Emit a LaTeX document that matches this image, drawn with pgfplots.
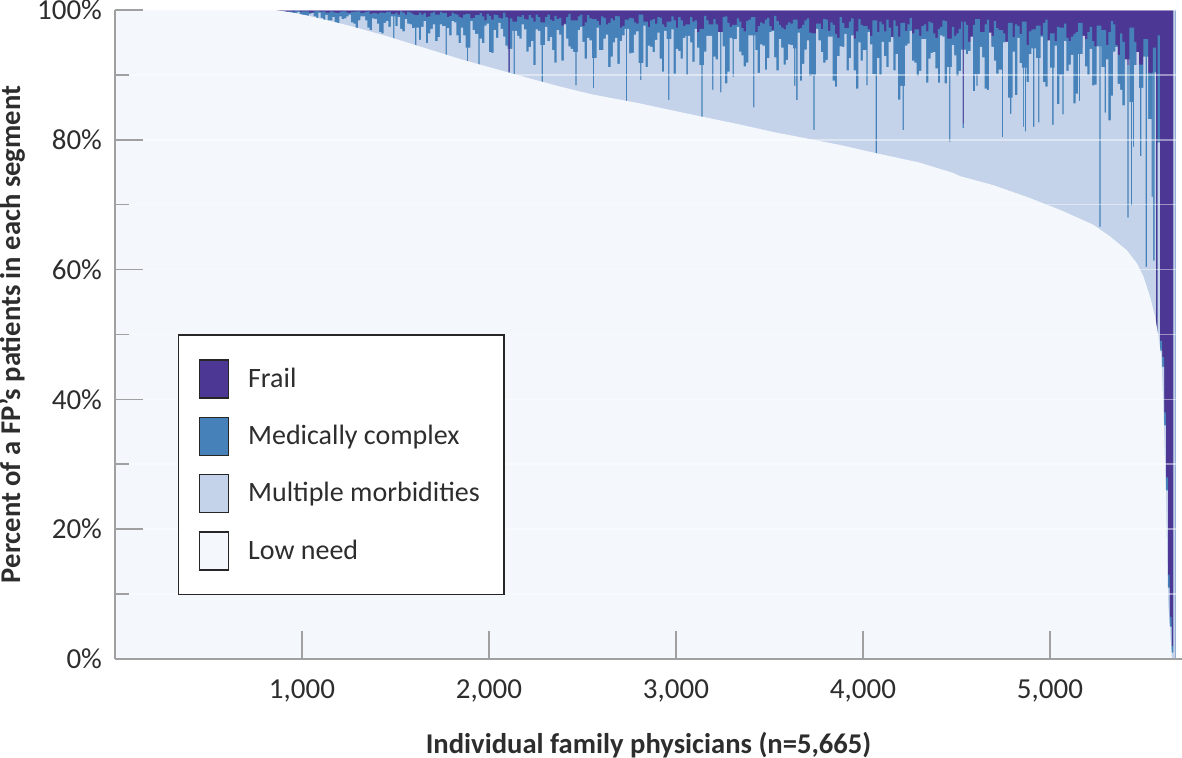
\documentclass[border=0pt]{standalone}
\usepackage{pgfplots}
\usepackage{pgfplotstable}
\usepackage{fontspec}
\setmainfont{Carlito}
\pgfplotsset{compat=1.18}

\definecolor{frailc}{RGB}{76,56,148}
\definecolor{medc}{RGB}{70,130,185}
\definecolor{multic}{RGB}{197,211,234}
\definecolor{lowc}{RGB}{244,248,252}
\definecolor{axisgray}{RGB}{160,160,160}
\definecolor{txt}{RGB}{45,45,45}

% low need share, physicians sorted by it
\pgfplotstableread{
x low
0 100
855 100
950 99.6
1050 99.0
1150 98.3
1250 97.6
1350 96.8
1450 96.0
1550 95.1
1650 94.2
1750 93.3
1850 92.4
1950 91.6
2050 90.8
2150 90.0
2250 89.2
2380 88.2
2550 87.0
2807 85.6
3000 84.4
3166 83.4
3350 82.3
3519 81.2
3700 80.2
3877 79.2
4075 77.9
4300 76.5
4481 74.9
4519 74.4
4697 73.0
4876 71.2
5054 69.2
5232 66.9
5321 65.1
5410 63.0
5464 61.0
5500 58.9
5535 55.8
5562 52.7
5580 49.7
5595 46.5
5605 40
5620 25
5631 9
5652 0
5665 0
}\lowtab

% top of multiple morbidities (mm) and of medically complex (mc), in percent
\pgfplotstableread{
x mm mc
850 99.3 99.8
862 99.3 99.7
875 99.6 99.7
887 98.8 99.8
900 99.0 99.9
912 99.4 99.7
925 99.4 99.8
937 99.0 99.8
950 98.8 99.7
962 99.5 99.9
975 99.7 99.9
987 98.7 99.7
1000 99.2 99.8
1012 99.2 99.8
1025 99.1 99.8
1037 99.4 99.6
1050 99.5 99.6
1062 99.0 99.8
1075 98.7 99.9
1087 99.6 99.8
1100 98.8 99.7
1112 97.5 99.8
1125 99.2 99.6
1137 98.4 99.6
1150 98.4 99.8
1162 98.9 99.7
1175 98.1 99.6
1187 97.9 99.5
1200 99.0 99.7
1212 98.6 99.8
1225 98.7 99.8
1237 99.0 99.6
1250 99.3 99.5
1262 98.1 99.7
1275 97.9 99.7
1287 97.2 99.8
1300 98.4 99.8
1312 99.0 99.5
1325 99.0 99.6
1337 98.4 99.7
1350 97.3 99.8
1362 96.9 99.4
1375 98.7 99.5
1387 98.6 99.5
1400 97.9 99.4
1412 96.6 99.6
1425 96.4 99.6
1437 98.0 99.5
1450 98.3 99.7
1462 97.4 99.7
1475 99.0 99.4
1487 95.0 99.4
1494 99.0 99.4
1500 97.5 99.6
1512 98.9 99.3
1525 97.1 99.8
1537 96.7 99.6
1550 98.6 99.3
1562 97.9 99.7
1575 97.8 99.6
1587 97.2 99.4
1600 97.3 99.2
1604 93.4 99.2
1611 97.3 99.2
1625 95.4 99.6
1637 97.4 99.3
1650 98.3 99.5
1662 94.9 98.9
1675 96.4 99.0
1687 97.1 99.5
1700 97.8 99.7
1712 95.2 99.3
1725 95.8 99.3
1737 97.8 99.7
1750 97.5 99.5
1768 91.8 99.5
1775 97.2 98.9
1787 96.1 99.1
1800 98.3 99.6
1812 98.1 99.4
1825 96.1 99.3
1837 94.9 98.9
1850 97.3 98.8
1862 96.1 99.3
1875 94.2 99.4
1882 90.5 99.4
1889 94.2 99.4
1900 98.3 98.7
1912 96.9 98.8
1925 96.3 99.2
1943 90.0 99.2
1950 95.6 99.5
1962 94.9 99.0
1975 97.6 98.4
1987 97.9 99.4
2000 93.5 99.1
2012 93.4 98.5
2025 96.9 99.3
2037 95.7 99.2
2050 98.0 98.8
2062 97.1 98.7
2075 95.9 99.6
2087 94.5 98.9
2100 94.0 98.7
2104 90.0 90.5
2111 94.0 98.7
2125 96.8 98.2
2132 88.9 98.2
2139 96.8 98.2
2150 96.0 99.0
2162 95.6 98.9
2175 97.8 99.2
2187 97.0 98.6
2200 93.6 98.5
2212 94.3 99.2
2225 95.2 98.8
2237 91.5 98.2
2250 97.0 99.3
2262 96.8 98.9
2275 94.6 98.1
2282 88.9 98.1
2289 94.6 98.1
2300 97.4 98.9
2312 95.2 99.3
2325 95.8 98.5
2337 93.8 98.3
2350 91.9 99.1
2362 96.9 98.6
2375 96.2 98.8
2387 92.2 97.6
2400 97.8 97.9
2412 95.6 98.9
2425 94.4 99.4
2437 94.0 98.4
2450 93.5 98.4
2462 88.4 98.4
2469 93.5 98.4
2475 96.9 99.0
2487 97.4 99.3
2500 95.1 97.5
2512 92.5 98.1
2525 95.7 99.2
2537 95.3 98.7
2550 92.6 98.6
2555 88.0 98.6
2562 92.6 98.6
2575 97.3 98.3
2587 93.8 97.7
2600 93.8 99.0
2612 95.6 98.8
2625 96.2 97.8
2637 91.2 98.0
2650 92.8 98.7
2662 95.0 98.4
2675 95.7 99.1
2687 91.7 99.0
2700 95.2 97.3
2712 96.1 97.5
2725 97.1 98.5
2732 85.7 98.5
2739 97.1 98.5
2750 93.3 98.8
2762 93.4 98.7
2775 96.2 98.1
2787 96.7 97.9
2800 91.8 99.3
2808 89.2 99.3
2815 91.8 99.3
2825 97.6 98.2
2837 91.2 98.2
2850 94.5 97.4
2862 94.3 98.4
2875 93.5 98.6
2887 95.4 97.9
2900 96.5 98.9
2912 92.5 98.8
2925 90.5 97.8
2937 96.8 97.4
2950 95.5 98.2
2958 86.1 98.2
2965 95.5 98.2
2975 97.0 99.0
2987 90.2 98.4
3000 94.0 97.3
3012 93.7 98.9
3025 92.5 98.4
3037 95.7 97.5
3050 96.0 97.8
3056 90.0 97.8
3063 96.0 97.8
3075 95.0 98.9
3087 92.0 98.2
3100 97.1 98.4
3112 94.2 96.6
3125 91.5 97.1
3136 83.3 97.1
3143 91.5 97.1
3150 93.6 99.1
3162 96.0 98.4
3175 96.0 97.8
3193 87.7 97.8
3200 92.8 98.6
3212 92.4 97.8
3225 96.6 96.6
3236 87.3 96.6
3243 96.6 96.6
3250 94.4 98.9
3262 88.7 99.0
3275 90.5 98.0
3287 95.7 97.4
3300 95.5 97.7
3303 89.7 97.7
3310 95.5 97.7
3325 97.4 98.7
3337 93.6 98.2
3350 93.0 97.2
3362 91.3 96.7
3375 91.9 98.3
3387 96.1 98.5
3400 96.1 98.9
3412 85.0 98.9
3419 96.1 98.9
3425 93.8 96.6
3437 90.3 97.5
3450 94.7 98.1
3462 94.5 97.9
3475 90.8 98.5
3487 92.6 98.8
3500 96.6 97.5
3512 96.8 96.9
3525 92.7 99.1
3537 90.7 98.3
3550 95.5 97.7
3562 94.2 97.3
3575 91.6 97.0
3587 92.3 97.7
3600 94.7 98.1
3612 94.6 97.9
3625 94.1 98.5
3632 88.3 98.5
3639 94.1 98.5
3643 86.1 98.5
3650 96.5 97.1
3662 89.1 97.2
3675 91.7 97.7
3687 93.9 98.4
3700 95.3 98.7
3712 89.8 96.5
3725 90.0 96.4
3734 81.5 96.4
3741 90.0 96.4
3750 97.1 97.9
3762 95.3 97.9
3775 93.5 97.1
3787 91.9 98.6
3800 92.3 98.5
3812 95.9 96.8
3825 95.9 98.1
3837 89.1 97.7
3850 88.2 96.3
3862 92.9 95.7
3875 94.4 98.9
3887 94.3 98.0
3900 96.3 97.2
3912 90.7 97.2
3925 92.6 98.2
3937 96.1 98.7
3950 90.7 95.6
3962 87.9 96.7
3975 95.0 98.6
3987 92.2 97.7
4000 93.8 97.5
4018 88.4 97.5
4025 96.6 97.0
4037 94.7 96.0
4050 90.1 98.4
4068 77.7 98.4
4075 92.6 96.6
4087 90.0 98.2
4100 95.1 97.8
4112 92.9 96.7
4125 91.2 98.5
4137 95.1 97.3
4150 95.8 95.5
4162 90.7 98.4
4175 93.2 97.5
4187 86.2 95.9
4200 88.3 98.0
4212 81.5 98.0
4219 88.3 98.0
4225 94.5 96.8
4237 94.8 97.8
4250 96.8 98.8
4262 92.2 96.4
4275 91.9 97.0
4287 89.9 97.0
4300 90.6 96.0
4312 95.5 97.5
4325 95.5 97.8
4337 88.8 96.7
4350 92.5 98.2
4362 93.4 98.0
4375 93.5 96.4
4387 91.0 95.7
4400 88.8 97.1
4412 96.1 97.4
4425 95.9 98.4
4437 88.7 98.3
4450 91.2 95.6
4460 79.7 95.6
4467 91.2 95.6
4475 94.6 97.4
4487 93.0 96.0
4500 89.8 96.4
4512 90.6 97.1
4525 93.9 98.2
4533 81.8 82.5
4540 93.9 98.2
4550 93.2 97.7
4562 93.7 95.1
4575 95.9 95.8
4587 87.5 97.7
4600 90.1 98.6
4606 88.3 98.6
4613 90.1 98.6
4625 94.3 96.6
4637 92.7 96.6
4650 87.9 97.8
4662 87.7 98.5
4675 96.5 94.7
4687 94.3 96.0
4700 92.2 98.3
4712 90.2 97.2
4725 90.8 96.9
4742 80.4 96.9
4750 95.0 96.4
4762 95.1 95.1
4775 86.5 98.0
4786 84.0 98.0
4793 86.5 98.0
4800 93.6 95.8
4812 86.9 97.8
4825 95.7 97.5
4837 91.8 96.3
4850 91.1 98.2
4856 82.0 98.2
4862 91.1 98.2
4866 81.3 98.2
4873 91.1 98.2
4875 88.9 94.6
4887 93.2 96.7
4900 94.1 97.0
4909 82.0 97.0
4916 94.1 97.0
4925 92.6 97.6
4936 82.7 97.6
4943 92.6 97.6
4950 95.9 96.1
4962 88.9 98.0
4975 88.2 98.5
4987 95.3 95.1
5000 91.1 96.4
5012 82.3 96.4
5019 91.1 96.4
5025 94.5 95.2
5037 85.5 97.4
5050 90.0 97.3
5066 83.9 97.3
5073 90.0 97.3
5075 95.2 97.9
5087 90.6 95.7
5100 91.6 95.2
5112 93.1 95.9
5125 85.6 96.3
5137 87.1 96.6
5150 93.2 98.0
5154 86.0 98.0
5161 93.2 98.0
5175 96.0 94.2
5187 91.3 95.5
5200 90.0 96.6
5212 94.0 97.4
5225 88.4 95.2
5237 88.5 94.4
5250 94.4 97.6
5264 66.6 97.6
5271 94.4 97.6
5275 91.2 96.9
5292 84.2 96.9
5300 92.4 94.6
5312 83.0 96.6
5325 86.8 98.3
5337 93.6 97.8
5350 94.3 94.6
5362 88.6 93.1
5375 87.7 96.4
5387 85.3 95.1
5400 92.4 91.5
5414 68.0 91.5
5420 92.4 91.5
5425 85.8 97.3
5432 69.9 97.3
5439 85.8 97.3
5443 78.9 97.3
5450 91.5 95.1
5462 93.5 91.6
5475 88.0 91.6
5481 77.5 91.6
5488 88.0 91.6
5500 92.8 95.5
5512 60.4 95.5
5519 92.8 95.5
5525 83.2 90.3
5543 71.2 90.3
5550 90.4 94.2
5552 61.4 94.2
5559 90.4 94.2
5566 50.0 50.0
5575 79.6 96.1
5588 47.5 49.0
5600 45.0 46.5
5610 36.0 38.0
5620 26.0 28.0
5630 11.0 13.0
5640 5.0 6.5
5650 1.0 2.0
5660 100 100
5672 0 0
}\bandtab

\begin{document}
\begin{tikzpicture}
\begin{axis}[
    name=ax,
    width=533.5pt, height=324.5pt, scale only axis,
    xmin=0, xmax=5706, ymin=0, ymax=100,
    axis x line*=bottom, axis y line*=left,
    axis line style={draw=axisgray, line width=0.8pt},
    axis on top,
    tick align=inside,
    tick style={draw=axisgray, line width=0.8pt},
    major tick length=14pt, minor tick length=7pt,
    xtick={1000,2000,3000,4000,5000},
    xticklabels={{1,000},{2,000},{3,000},{4,000},{5,000}},
    ytick={0,20,40,60,80,100},
    yticklabels={0\%,20\%,40\%,60\%,80\%,100\%},
    minor ytick={10,30,50,70,90},
    ymajorgrids, yminorgrids,
    major grid style={draw=white, opacity=0.45, line width=0.8pt},
    minor grid style={draw=white, opacity=0.45, line width=0.8pt},
    /pgf/number format/assume math mode=true,
    tick label style={font=\fontsize{14.5}{17}\selectfont, text=txt},
    xticklabel style={yshift=-7pt},
    yticklabel style={xshift=-3pt},
    label style={font=\fontsize{14.3}{17}\selectfont\bfseries, text=txt},
    xlabel={Individual family physicians (n=5,665)},
    ylabel={Percent of a FP’s patients in each segment},
    xlabel style={at={(axis description cs:0.5,-0.1325)}, anchor=center},
    ylabel style={at={(axis description cs:-0.0965,0.5)}, anchor=center},
    legend image code/.code={
        \draw[#1, draw=black!85, line width=0.7pt] (0pt,-9.5pt) rectangle (14.5pt,9.5pt);
        \path (22pt,0pt);},
    legend style={at={(axis cs:337,50)}, anchor=north west,
        draw=black!85, line width=0.7pt, fill=white,
        inner xsep=10pt, inner ysep=12pt, row sep=9pt,
        font=\fontsize{14}{16}\selectfont, text=txt,
        cells={anchor=west}},
]
\addplot[forget plot, fill=frailc, draw=none] coordinates {(850,100) (5672,100)} \closedcycle;
\addplot[forget plot, const plot, fill=medc, draw=none] table[x=x, y=mc] {\bandtab} \closedcycle;
\addplot[forget plot, const plot, fill=multic, draw=none] table[x=x, y=mm] {\bandtab} \closedcycle;
\addplot[forget plot, sharp plot, fill=lowc, draw=none] table[x=x, y=low] {\lowtab} \closedcycle;

\addlegendimage{fill=frailc}
\addlegendentry{Frail}
\addlegendimage{fill=medc}
\addlegendentry{Medically complex}
\addlegendimage{fill=multic}
\addlegendentry{Multiple morbidities}
\addlegendimage{fill=lowc}
\addlegendentry{Low need}
\end{axis}
\pgfresetboundingbox
\path[use as bounding box] ([xshift=-57.5pt, yshift=-49.5pt]ax.south west) rectangle ([yshift=5pt]ax.north east);
\end{tikzpicture}
\end{document}
